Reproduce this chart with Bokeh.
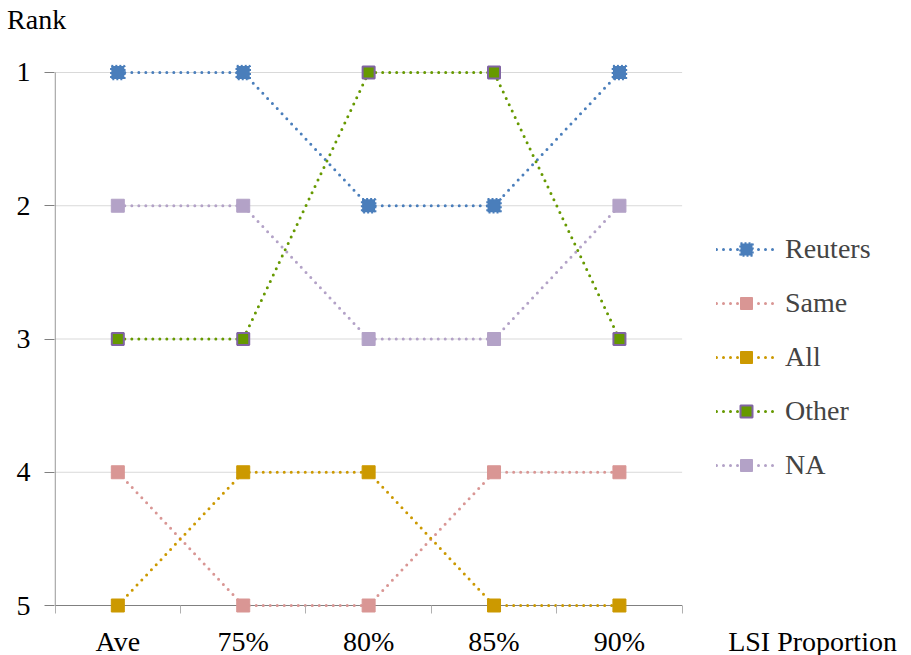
from bokeh.plotting import figure
from bokeh.models import Range1d, FixedTicker, Legend, LegendItem, LinearAxis
from bokeh.embed import file_html
from bokeh.resources import INLINE

categories = ["Ave", "75%", "80%", "85%", "90%"]
series_names = ["Reuters", "Same", "All", "Other", "NA"]
reuters = [1, 1, 2, 2, 1]
same = [4, 5, 5, 4, 4]
all_ = [5, 4, 4, 5, 5]
other = [3, 3, 1, 1, 3]
na = [2, 2, 3, 3, 2]
rank_ticks = [1, 2, 3, 4, 5]
x_title = "LSI Proportion"
y_title = "Rank"

FONT = "'Liberation Serif', serif"
FS = "28px"

n = len(categories)
x_lo = -0.505
px_per_x = 125.4
frame_w = 857
x_hi = x_lo + frame_w / px_per_x

p = figure(frame_width=frame_w, frame_height=549,
           x_range=Range1d(x_lo, x_hi), y_range=Range1d(5.06, 0.94),
           output_backend="svg", toolbar_location=None,
           min_border_left=54, min_border_top=64, min_border_bottom=42,
           min_border_right=0)
p.outline_line_color = None
p.background_fill_color = "white"

xs = list(range(n))
left_edge = -0.5
right_edge = n - 0.5

# grid lines (only over the category area)
p.segment(x0=[left_edge] * len(rank_ticks), y0=rank_ticks,
          x1=[right_edge] * len(rank_ticks), y1=rank_ticks,
          line_color="#d9d9d9", line_width=1, level="underlay")
# axis lines
p.segment(x0=[left_edge], y0=[rank_ticks[-1]], x1=[right_edge], y1=[rank_ticks[-1]],
          line_color="#808080", line_width=1, level="underlay")
p.segment(x0=[left_edge], y0=[rank_ticks[0]], x1=[left_edge], y1=[rank_ticks[-1]],
          line_color="#808080", line_width=1, level="underlay")

styles = [
    dict(color="#4a7ebb", fill="#4a7ebb", mline="#4a7ebb", mdash="2 2", mw=2.5, size=13),
    dict(color="#d99694", fill="#d99694", mline="#d99694", mdash="solid", mw=1, size=13),
    dict(color="#cc9900", fill="#cc9900", mline="#cc9900", mdash="solid", mw=1, size=13),
    dict(color="#669900", fill="#669900", mline="#8064a2", mdash="solid", mw=2, size=12),
    dict(color="#b3a2c7", fill="#b3a2c7", mline="#b3a2c7", mdash="solid", mw=1, size=13),
]
data = [reuters, same, all_, other, na]

items = []
for name, ys, st in zip(series_names, data, styles):
    lr = p.line(xs, ys, line_color=st["color"], line_width=3, line_dash="0 7",
                line_cap="round")
    sr = p.scatter(xs, ys, marker="square", size=st["size"], fill_color=st["fill"],
                   line_color=st["mline"], line_width=st["mw"], line_dash=st["mdash"])
    items.append(LegendItem(label=name, renderers=[lr, sr]))

# x axis: category labels + axis title as an extra tick label
x_title_pos = 5.54
p.xaxis.ticker = FixedTicker(ticks=xs + [x_title_pos],
                             minor_ticks=[i - 0.5 for i in range(n + 1)])
overrides = {i: c for i, c in enumerate(categories)}
overrides[x_title_pos] = x_title
p.xaxis.major_label_overrides = overrides
p.xaxis.axis_line_color = None
p.xaxis.major_tick_in = 0
p.xaxis.major_tick_out = 0
p.xaxis.minor_tick_in = 8
p.xaxis.minor_tick_out = 0
p.xaxis.minor_tick_line_color = "#b0b0b0"
p.xaxis.major_label_standoff = 12
p.xaxis.major_label_text_font = FONT
p.xaxis.major_label_text_font_size = FS
p.xaxis.major_label_text_color = "black"

p.yaxis.ticker = FixedTicker(ticks=rank_ticks)
p.yaxis.axis_line_color = None
p.yaxis.major_tick_in = 0
p.yaxis.major_tick_out = 10
p.yaxis.major_tick_line_color = "#808080"
p.yaxis.minor_tick_line_color = None
p.yaxis.major_label_standoff = 14
p.yaxis.major_label_text_font = FONT
p.yaxis.major_label_text_font_size = FS
p.yaxis.major_label_text_color = "black"

p.xgrid.grid_line_color = None
p.ygrid.grid_line_color = None

# y-axis title placed at top-left via a label-only top axis
y_title_pos = -0.452
top_axis = LinearAxis(ticker=FixedTicker(ticks=[y_title_pos]),
                      major_label_overrides={y_title_pos: y_title + "\u00a0" * 7},
                      axis_line_color=None, major_tick_line_color=None,
                      minor_tick_line_color=None, major_tick_in=0, major_tick_out=0,
                      minor_tick_in=0, minor_tick_out=0, major_label_standoff=30,
                      major_label_text_font=FONT, major_label_text_font_size=FS,
                      major_label_text_color="black")
p.add_layout(top_axis, "above")

legend = Legend(items=items, location=(662, 132), orientation="vertical",
                glyph_width=60, glyph_height=30, label_height=30, label_width=100,
                label_standoff=9, spacing=22, padding=0, margin=0,
                label_text_font=FONT, label_text_font_size=FS,
                border_line_color=None, background_fill_alpha=0)
p.add_layout(legend)

open("out.html", "w").write(file_html(p, INLINE))
